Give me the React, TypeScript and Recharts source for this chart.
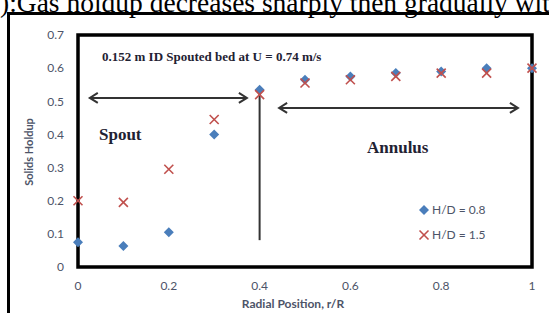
import React from 'react';
import {
  ScatterChart,
  Scatter,
  XAxis,
  YAxis,
  ReferenceArea,
  ReferenceLine,
  Legend,
} from 'recharts';

const radialPositions = [0, 0.1, 0.2, 0.3, 0.4, 0.5, 0.6, 0.7, 0.8, 0.9, 1];
const holdupHD08 = [0.075, 0.063, 0.105, 0.4, 0.535, 0.565, 0.575, 0.585, 0.59, 0.6, 0.6];
const holdupHD15 = [0.2, 0.195, 0.295, 0.445, 0.52, 0.555, 0.565, 0.575, 0.585, 0.585, 0.6];
const xTicks = [0, 0.2, 0.4, 0.6, 0.8, 1];
const yTicks = [0, 0.1, 0.2, 0.3, 0.4, 0.5, 0.6, 0.7];

const series08 = radialPositions.map((r, i) => ({ r, h: holdupHD08[i] }));
const series15 = radialPositions.map((r, i) => ({ r, h: holdupHD15[i] }));

const BLUE = '#4a7ebb';
const RED = '#c0504d';
const AXIS_TEXT = '#4d5468';

const Diamond = (props: any) => {
  const { cx, cy } = props;
  const s = 5;
  return <polygon points={`${cx},${cy - s} ${cx + s},${cy} ${cx},${cy + s} ${cx - s},${cy}`} fill={BLUE} />;
};

const Cross = (props: any) => {
  const { cx, cy } = props;
  const s = 4.5;
  return (
    <g stroke={RED} strokeWidth={1.6}>
      <line x1={cx - s} y1={cy - s} x2={cx + s} y2={cy + s} />
      <line x1={cx - s} y1={cy + s} x2={cx + s} y2={cy - s} />
    </g>
  );
};

// line with open arrow heads drawn at the segment ends
const arrowShape = (both: boolean) => (props: any) => {
  const { x1, y1, x2, y2 } = props;
  const a = 8;
  return (
    <g stroke="#333" strokeWidth={2} fill="none">
      <line x1={x1} y1={y1} x2={x2} y2={y2} />
      {both && <polyline points={`${x1 + a},${y1 - 5} ${x1},${y1} ${x1 + a},${y1 + 5}`} />}
      {both && <polyline points={`${x2 - a},${y2 - 5} ${x2},${y2} ${x2 - a},${y2 + 5}`} />}
    </g>
  );
};

const LegendContent = () => (
  <div style={{ fontFamily: 'Lato, sans-serif', fontSize: 12, color: AXIS_TEXT }}>
    <div style={{ display: 'flex', alignItems: 'center', height: 25 }}>
      <svg width={12} height={12}>
        <Diamond cx={6} cy={6} />
      </svg>
      <span style={{ marginLeft: 2 }}>H/D = 0.8</span>
    </div>
    <div style={{ display: 'flex', alignItems: 'center', height: 25 }}>
      <svg width={12} height={12}>
        <Cross cx={6} cy={6} />
      </svg>
      <span style={{ marginLeft: 2 }}>H/D = 1.5</span>
    </div>
  </div>
);

export default function App() {
  const serif = '"Liberation Serif", "Times New Roman", serif';
  return (
    <div style={{ position: 'absolute', left: 0, top: 0, width: 549, height: 313, overflow: 'hidden', background: '#fff' }}>
      <div
        style={{
          position: 'absolute',
          left: 0,
          top: -13,
          fontFamily: serif,
          fontSize: 27.5,
          whiteSpace: 'nowrap',
          color: '#000',
        }}
      >
        ):Gas holdup decreases sharply then gradually with
      </div>
      <div
        style={{
          position: 'absolute',
          left: 7,
          top: 12,
          width: 600,
          height: 298,
          borderLeft: '3px solid #000',
          borderTop: '3px solid #000',
          borderBottom: '1px solid #ddd',
        }}
      />
      <div style={{ position: 'absolute', left: 0, top: 0 }}>
        <ScatterChart width={549} height={313} margin={{ top: 35, right: 17, bottom: 16, left: 0 }}>
          <XAxis
            type="number"
            dataKey="r"
            domain={[0, 1]}
            ticks={xTicks}
            height={30}
            tickLine={false}
            tickSize={0}
            tickMargin={14}
            axisLine={false}
            tick={{ fill: AXIS_TEXT, fontSize: 12, fontFamily: 'Lato, sans-serif' }}
          />
          <YAxis
            type="number"
            dataKey="h"
            domain={[0, 0.7]}
            ticks={yTicks}
            width={78}
            tickLine={false}
            tickSize={0}
            tickMargin={14}
            axisLine={false}
            tick={{ fill: AXIS_TEXT, fontSize: 12, fontFamily: 'Lato, sans-serif' }}
          />
          <ReferenceArea x1={0} x2={1} y1={0} y2={0.7} fill="none" stroke="#000" strokeWidth={3.5} />
          <ReferenceLine
            segment={[{ x: 0.026, y: 0.51 }, { x: 0.372, y: 0.51 }]}
            shape={arrowShape(true)}
          />
          <ReferenceLine
            segment={[{ x: 0.4, y: 0.534 }, { x: 0.4, y: 0.081 }]}
            shape={arrowShape(false)}
          />
          <ReferenceLine
            segment={[{ x: 0.443, y: 0.48 }, { x: 0.969, y: 0.48 }]}
            shape={arrowShape(true)}
          />
          <Scatter name="H/D = 0.8" data={series08} fill={BLUE} shape={Diamond} isAnimationActive={false} />
          <Scatter name="H/D = 1.5" data={series15} fill={RED} shape={Cross} isAnimationActive={false} />
          <Legend
            layout="vertical"
            align="center"
            verticalAlign="middle"
            content={LegendContent}
            wrapperStyle={{ left: 418, top: 197, width: 110 }}
          />
        </ScatterChart>
      </div>
      <div
        style={{
          position: 'absolute',
          left: 102,
          top: 49,
          fontFamily: serif,
          fontWeight: 'bold',
          fontSize: 13,
          color: '#1f2233',
          whiteSpace: 'nowrap',
        }}
      >
        0.152 m ID Spouted bed at U = 0.74 m/s
      </div>
      <div
        style={{ position: 'absolute', left: 99, top: 125, fontFamily: serif, fontWeight: 'bold', fontSize: 17, color: '#1f2233' }}
      >
        Spout
      </div>
      <div
        style={{ position: 'absolute', left: 367, top: 138, fontFamily: serif, fontWeight: 'bold', fontSize: 17, color: '#1f2233' }}
      >
        Annulus
      </div>
      <div
        style={{
          position: 'absolute',
          left: 28,
          top: 152,
          transform: 'translate(-50%, -50%) rotate(-90deg)',
          fontFamily: 'Lato, sans-serif',
          fontWeight: 'bold',
          fontSize: 11,
          color: AXIS_TEXT,
          whiteSpace: 'nowrap',
        }}
      >
        Solids Holdup
      </div>
      <div
        style={{
          position: 'absolute',
          left: 293,
          top: 303,
          transform: 'translate(-50%, -50%)',
          fontFamily: 'Lato, sans-serif',
          fontWeight: 'bold',
          fontSize: 12,
          color: AXIS_TEXT,
          whiteSpace: 'nowrap',
        }}
      >
        Radial Position, r/R
      </div>
    </div>
  );
}
